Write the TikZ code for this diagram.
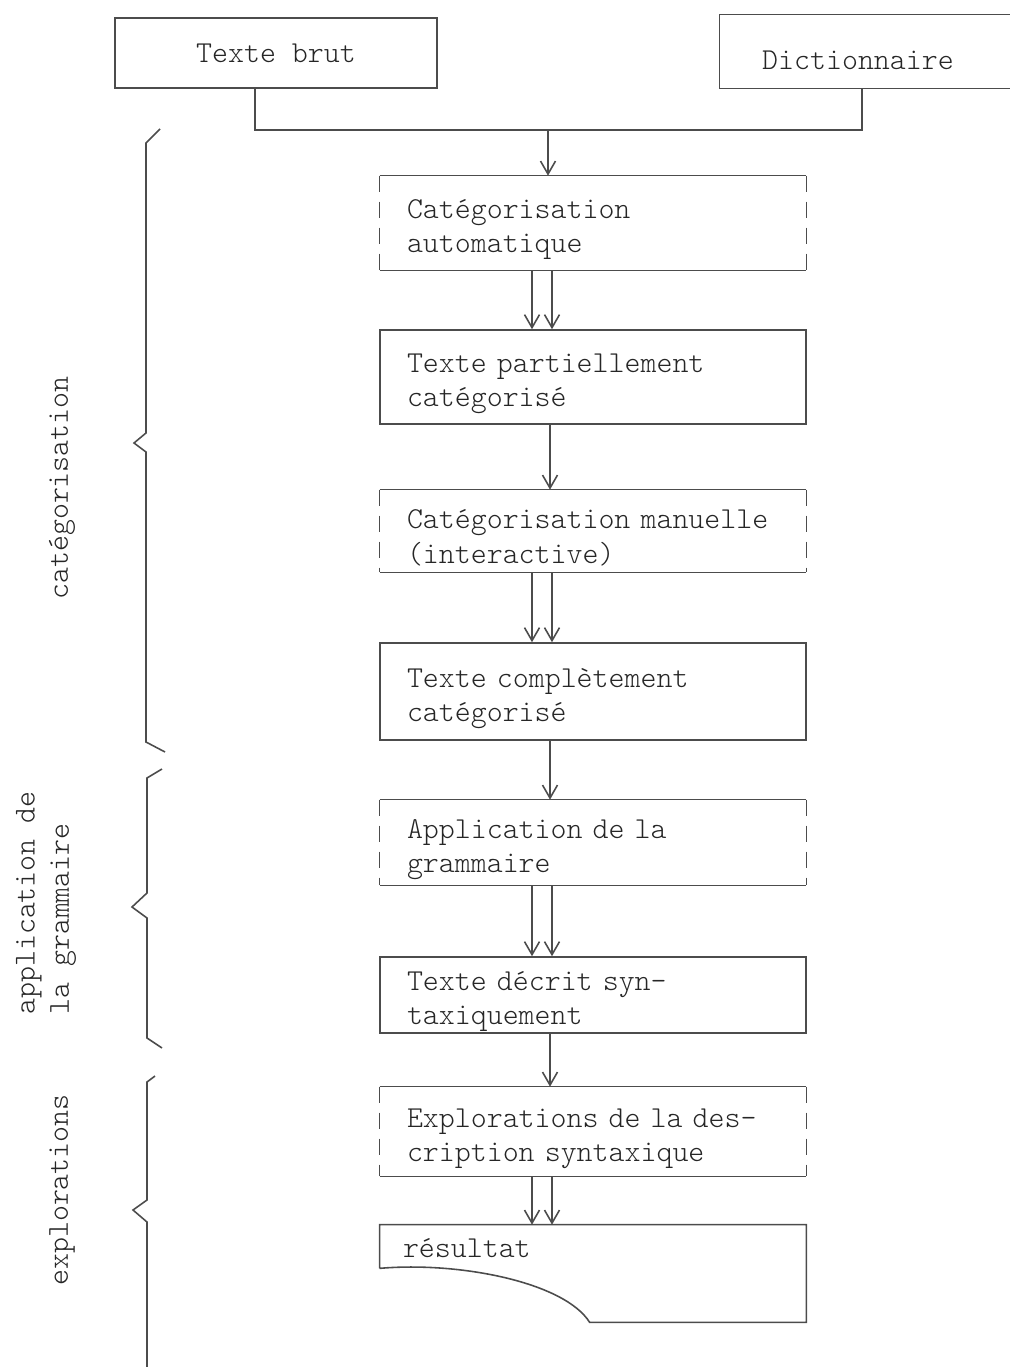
\documentclass[tikz,border=0pt]{standalone}
\usepackage{tikz}
\usetikzlibrary{arrows.meta,calc,positioning}

\begin{document}
\begin{tikzpicture}[
    line/.style={draw=black!70, line width=0.9pt},
    sideline/.style={line, dash pattern=on 0.32cm off 0.2cm},
    flow/.style={line, -{Straight Barb[length=2.6mm,width=3mm]}},
    every node/.style={font=\ttfamily\fontseries{l}\fontsize{17.3}{19.5}\selectfont, text=black!85},
    stepbox/.style={inner xsep=0.54cm, inner ysep=0pt, text width=7.44cm, align=left,
      execute at begin node={\rule{0pt}{18.5pt}}},
    databox/.style={stepbox, line},
    procbox/.style={stepbox}
  ]
  \useasboundingbox (0,0) rectangle (20.18,-27.34);
  %
  % inputs
  \node[line, minimum width=6.44cm, minimum height=1.4cm] (brut) at (5.52,-1.06) {Texte brut};
  \node[minimum width=5.52cm, minimum height=1.46cm] (dict) at (17.16,-1.2) {Dictionnaire};
  \draw[line] ($(dict.north east)+(0.6,0.17)$) -- ($(dict.north west)+(0,0.17)$)
    -- ($(dict.south west)+(0,0.17)$) -- ($(dict.south east)+(0.6,0.17)$);
  %
  % main chain
  \node[procbox, minimum height=1.88cm] (b1) at (11.86,-4.46) {Catégorisation\\automatique};
  \node[databox, minimum height=1.88cm] (b2) at (11.86,-7.54) {Texte partiellement\\catégorisé};
  \node[procbox, minimum height=1.64cm] (b3) at (11.86,-10.62) {Catégorisation manuelle\\(interactive)};
  \node[databox, minimum height=1.94cm] (b4) at (11.86,-13.83) {Texte complètement\\catégorisé};
  \node[procbox, minimum height=1.70cm] (b5) at (11.86,-16.85) {Application de la\\grammaire};
  \node[databox, minimum height=1.52cm] (b6) at (11.86,-19.90) {Texte décrit syn-\\taxiquement};
  \node[procbox, minimum height=1.78cm] (b7) at (11.86,-22.63) {Explorations de la des-\\cription syntaxique};
  \node[minimum width=8.52cm, minimum height=1.94cm, inner sep=0pt] (res) at (11.86,-25.47) {};
  \node[anchor=base west, inner sep=0pt] (restxt) at ($(res.north west)+(0.46,-0.66)$) {résultat};
  %
  % process boxes: solid top and bottom, broken sides
  \foreach \n in {b1,b3,b5,b7} {
    \draw[line] (\n.north west) -- (\n.north east);
    \draw[line] (\n.south west) -- (\n.south east);
    \draw[sideline] (\n.north west) -- (\n.south west);
    \draw[sideline] (\n.north east) -- (\n.south east);
  }
  %
  % document shape
  \draw[line] ($(res.south west)+(0,1.08)$) -- (res.north west) -- (res.north east)
    -- (res.south east) -- ($(res.south west)+(4.2,0)$)
    .. controls ($(res.south west)+(3.7,0.8)$) and ($(res.south west)+(1.6,1.22)$) .. ($(res.south west)+(0,1.08)$);
  %
  % joining the inputs
  \coordinate (join) at (10.96,-2.6);
  \draw[line] ($(brut.south)+(-0.42,0)$) |- (join) -| ($(dict.south)+(0.08,0.17)$);
  \draw[flow] (join) -- (b1.north -| join);
  %
  % arrows
  \foreach \a/\b in {b1/b2,b3/b4,b5/b6,b7/res} {
    \draw[flow] ($(\a.south)+(-1.22,0)$) -- ($(\b.north)+(-1.22,0)$);
    \draw[flow] ($(\a.south)+(-0.82,0)$) -- ($(\b.north)+(-0.82,0)$);
  }
  \foreach \a/\b in {b2/b3,b4/b5,b6/b7} {
    \draw[flow] ($(\a.south)+(-0.86,0)$) -- ($(\b.north)+(-0.86,0)$);
  }
  %
  % braces and their labels
  \draw[line] (3.2,-2.58) -- (2.92,-2.86) -- (2.92,-8.66) -- (2.68,-8.86) -- (2.92,-9.04) -- (2.92,-14.84) -- (3.3,-15.04);
  \draw[line] (3.24,-15.38) -- (2.94,-15.56) -- (2.94,-17.86) -- (2.64,-18.14) -- (2.94,-18.36) -- (2.94,-20.76) -- (3.24,-20.96);
  \draw[line] (3.1,-21.52) -- (2.94,-21.64) -- (2.94,-24.0) -- (2.66,-24.2) -- (2.94,-24.44) -- (2.94,-27.6);
  \node[rotate=90] (lcat) at (1.24,-9.76) {catégorisation};
  \node[rotate=90, align=left] (lgram) at (0.92,-18.06) {application de\\la grammaire};
  \node[rotate=90] (lexpl) at (1.24,-23.8) {explorations};
\end{tikzpicture}
\end{document}
